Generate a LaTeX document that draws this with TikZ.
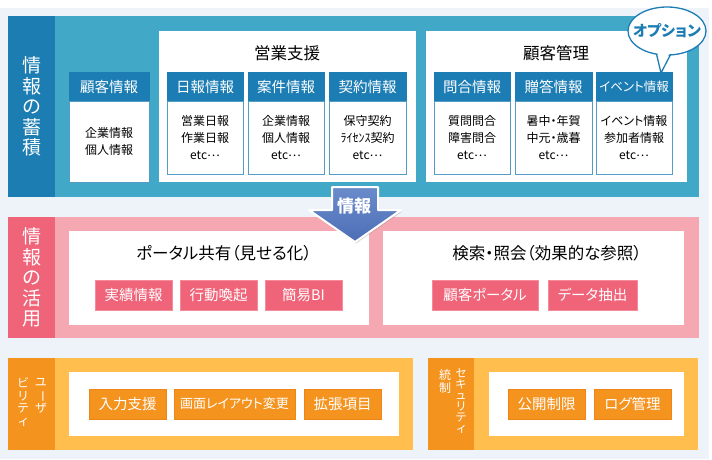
\documentclass[tikz,border=0pt]{standalone}
\usepackage{fontspec}
\usepackage{graphicx}
\setmainfont{Noto Sans CJK JP}[RawFeature=+palt]
\usetikzlibrary{shapes.geometric,shadows}
\definecolor{pagebg}{HTML}{EEF2F9}
\definecolor{accL}{HTML}{42A8C8}
\definecolor{accD}{HTML}{1B7DB2}
\definecolor{hdrB}{HTML}{1C7DB4}
\definecolor{pinkL}{HTML}{F5A7B2}
\definecolor{pinkD}{HTML}{F0647A}
\definecolor{pinkE}{HTML}{F58A9B}
\definecolor{oraL}{HTML}{FFBE4D}
\definecolor{oraD}{HTML}{F5931F}
\definecolor{oraE}{HTML}{EF8418}
\definecolor{arrT}{HTML}{6A8CCB}
\definecolor{arrB}{HTML}{4D6EB6}
\newcommand{\vbar}{\rotatebox[origin=c]{-90}{ー}}
\newcommand{\etcdots}{etc\raisebox{0.25em}{…}}
\begin{document}
\begin{tikzpicture}[x=1pt,y=-1pt,
  sect/.style={rectangle, inner sep=0, outer sep=0, anchor=north west},
  lab/.style={sect, text=white, align=center, font=\fontsize{19}{20.5}\selectfont},
  vcol/.style={inner sep=0, outer sep=0, anchor=north, text=white, align=center, font=\fontsize{12}{12.5}\selectfont},
  hdr/.style={sect, fill=hdrB, draw=hdrB, line width=0.8, text=white, font=\fontsize{14.5}{14.5}\selectfont, minimum width=76, minimum height=29},
  bdy/.style={sect, fill=white, draw=hdrB!75, line width=0.8, align=center, font=\fontsize{12}{17}\selectfont, minimum width=76, minimum height=73},
  ttl/.style={font=\fontsize{16.5}{16.5}\selectfont, inner sep=0},
  wbox/.style={sect, fill=white},
  btn/.style={sect, text=white, font=\fontsize{14.5}{14.5}\selectfont, line width=0.8, minimum height=30},
  pbtn/.style={btn, fill=pinkD, draw=pinkE},
  obtn/.style={btn, fill=oraD, draw=oraE},
  bubble/.style={draw=hdrB, line width=1.3, fill=white, line join=round}]
\useasboundingbox (0,0) rectangle (712,459);
\fill[white] (0,0) rectangle (712,459);
\fill[pagebg] (0,8) rectangle (709,459);

% ===== 情報の蓄積 =====
\node[sect, fill=accL, minimum width=691, minimum height=181] (acc) at (8,16) {};
\node[lab, fill=accD, minimum width=47, minimum height=181] (accLab) at (8,16) {情\\報\\の\\蓄\\積};

\node[hdr, minimum width=80] (h0) at (69,72) {顧客情報};
\node[bdy, minimum width=80, minimum height=81] (b0) at (69,101) {企業情報\\個人情報};

\node[wbox, minimum width=257, minimum height=151] (eig) at (159,31) {};
\node[ttl] (eigT) at (287,53) {営業支援};
\node[hdr] (h1) at (167,72) {日報情報};
\node[bdy] (b1) at (167,101) {営業日報\\作業日報\\\etcdots};
\node[hdr] (h2) at (248,72) {案件情報};
\node[bdy] (b2) at (248,101) {企業情報\\個人情報\\\etcdots};
\node[hdr, minimum width=77] (h3) at (329,72) {契約情報};
\node[bdy, minimum width=77] (b3) at (329,101) {保守契約\\ﾗｲｾﾝｽ契約\\\etcdots};

\node[wbox, minimum width=261, minimum height=151] (kok) at (426,31) {};
\node[ttl] (kokT) at (556,53) {顧客管理};
\node[hdr] (h4) at (434,72) {問合情報};
\node[bdy] (b4) at (434,101) {質問問合\\障害問合\\\etcdots};
\node[hdr, minimum width=77] (h5) at (515,72) {贈答情報};
\node[bdy, minimum width=77] (b5) at (515,101) {暑中・年賀\\中元・歳暮\\\etcdots};
\node[hdr, font=\fontsize{12.5}{12.5}\selectfont] (h6) at (596,72) {イベント情報};
\node[bdy] (b6) at (596,101) {イベント情報\\参加者情報\\\etcdots};

% ===== 情報の活用 =====
\node[sect, fill=pinkL, minimum width=691, minimum height=121] (kat) at (8,217) {};
\node[lab, fill=pinkD, minimum width=47, minimum height=121] (katLab) at (8,217) {情\\報\\の\\活\\用};

\node[wbox, minimum width=300, minimum height=94] (por) at (69,231) {};
\node[ttl] (porT) at (224,253) {ポータル共有（見せる化）};
\node[pbtn, minimum width=77] (p1) at (95,280) {実績情報};
\node[pbtn, minimum width=77] (p2) at (180,280) {行動喚起};
\node[pbtn, minimum width=77] (p3) at (265,280) {簡易BI};

\node[wbox, minimum width=301, minimum height=94] (ken) at (383,231) {};
\node[ttl] (kenT) at (547,253) {検索・照会（効果的な参照）};
\node[pbtn, minimum width=106] (p4) at (432,280) {顧客ポータル};
\node[pbtn, minimum width=89] (p5) at (548,280) {データ抽出};

% ===== arrow 情報 =====
\draw[white, line width=2, line join=round, top color=arrT, bottom color=arrB,
  drop shadow={opacity=0.35, shadow xshift=1pt, shadow yshift=-1.5pt}]
  (332,187) -- (378,187) -- (378,210) -- (401,210) -- (355,242) -- (309,210) -- (332,210) -- cycle;
\node[text=white, font=\bfseries\fontsize{17}{17}\selectfont, inner sep=0] (arrTxt) at (354,206) {情報};

% ===== ユーザビリティ =====
\node[sect, fill=oraL, minimum width=405, minimum height=92] (usa) at (8,358) {};
\node[sect, fill=oraD, minimum width=47, minimum height=92] (usaLab) at (8,358) {};
\node[vcol] (usaC1) at (41,378) {ユ\\\vbar\\ザ};
\node[vcol] (usaC2) at (23,378) {ビ\\リ\\テ\\ィ};
\node[wbox, minimum width=330, minimum height=64] (usaW) at (69,372) {};
\node[obtn, minimum width=77] (o1) at (89,389) {入力支援};
\node[obtn, minimum width=121, font=\fontsize{13}{13}\selectfont] (o2) at (174,389) {画面レイアウト変更};
\node[obtn, minimum width=77] (o3) at (304,389) {拡張項目};

% ===== セキュリティ統制 =====
\node[sect, fill=oraL, minimum width=270, minimum height=92] (sec) at (428,358) {};
\node[sect, fill=oraD, minimum width=46, minimum height=92] (secLab) at (428,358) {};
\node[vcol, font=\fontsize{11.5}{11}\selectfont] (secC1) at (461,369) {セ\\キ\\ュ\\リ\\テ\\ィ};
\node[vcol, font=\fontsize{12}{13}\selectfont] (secC2) at (445,369) {統\\制};
\node[wbox, minimum width=195, minimum height=64] (secW) at (489,372) {};
\node[obtn, minimum width=77] (o4) at (508,389) {公開制限};
\node[obtn, minimum width=77] (o5) at (594,389) {ログ管理};

% ===== オプション bubble =====
\coordinate (optC) at (667,31);
\coordinate (optTip) at (661,73);
\coordinate (optL) at (656.5,54);
\coordinate (optR) at (670.5,54.6);
\draw[bubble] (optC) ellipse [x radius=39pt, y radius=24pt];
\fill[white] (657,51.5) -- (optTip) -- (670,51.5) -- cycle;
\draw[hdrB, line width=1.3, line join=round] (optL) -- (optTip) -- (optR);
\node[text=hdrB, font=\bfseries\fontsize{15}{15}\selectfont, inner sep=0] (optT) at (optC) {オプション};
\end{tikzpicture}
\end{document}
